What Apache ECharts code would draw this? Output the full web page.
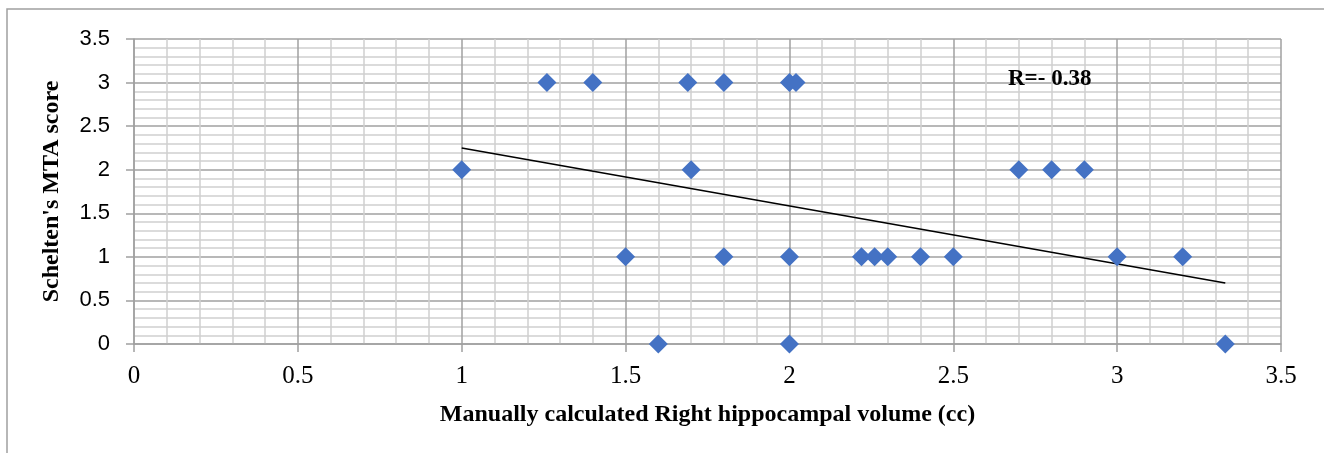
<!DOCTYPE html>
<html><head><meta charset="utf-8">
<script src="https://cdn.jsdelivr.net/npm/echarts@6/dist/echarts.min.js"></script>
<style>html,body{margin:0;padding:0;background:#fff}#c{width:1324px;height:453px}</style>
</head><body><div id="c"></div>
<script>
// Data
const volume3 = [1.26, 1.40, 1.69, 1.80, 2.00, 2.02];
const volume2 = [1.00, 1.70, 2.70, 2.80, 2.90];
const volume1 = [1.50, 1.80, 2.00, 2.22, 2.26, 2.30, 2.40, 2.50, 3.00, 3.20];
const volume0 = [1.60, 2.00, 3.33];
const scoreLevels = [3, 2, 1, 0];
const trendX = [1.00, 3.33];
const trendY = [2.25, 0.70];
const xTitle = 'Manually calculated Right hippocampal volume (cc)';
const yTitle = "Schelten's MTA score";
const rLabel = 'R=- 0.38';

const groups = [volume3, volume2, volume1, volume0];
const points = [];
groups.forEach((g, i) => g.forEach(x => points.push([x, scoreLevels[i]])));
const trend = trendX.map((x, i) => [x, trendY[i]]);

const chart = echarts.init(document.getElementById('c'));
const major = '#a0a0a0', minor = '#cfcfcf';
chart.setOption({
  animation: false,
  grid: {left: 134, right: 43, top: 39, bottom: 109, show: false},
  graphic: [
    {type: 'rect', shape: {x: 7, y: 9, width: 1330, height: 460}, style: {fill: 'none', stroke: '#a0a0a0', lineWidth: 1.5}, z: 0},
    {type: 'text', left: 1008, top: 68, z: 10,
     style: {text: rLabel, font: 'bold 23px "Liberation Serif"', fill: '#000'}}
  ],
  xAxis: {
    type: 'value', min: 0, max: 3.5, interval: 0.5,
    name: xTitle, nameLocation: 'middle', nameGap: 59,
    nameTextStyle: {fontFamily: 'Liberation Serif', fontWeight: 'bold', fontSize: 24, color: '#000'},
    axisLine: {show: true, lineStyle: {color: major, width: 1.5}},
    axisTick: {show: true, length: 8, lineStyle: {color: major, width: 1.5}},
    axisLabel: {fontFamily: 'Liberation Serif', fontSize: 25, color: '#000', margin: 20},
    splitLine: {show: true, lineStyle: {color: major, width: 1.5}},
    minorTick: {show: false, splitNumber: 5},
    minorSplitLine: {show: true, lineStyle: {color: minor, width: 1.5}}
  },
  yAxis: {
    type: 'value', min: 0, max: 3.5, interval: 0.5,
    name: yTitle, nameLocation: 'middle', nameGap: 70,
    nameTextStyle: {fontFamily: 'Liberation Serif', fontWeight: 'bold', fontSize: 24, color: '#000'},
    axisLine: {show: true, lineStyle: {color: major, width: 1.5}},
    axisTick: {show: true, length: 8, lineStyle: {color: major, width: 1.5}},
    axisLabel: {fontFamily: 'Liberation Sans', fontSize: 22, color: '#000', margin: 24},
    splitLine: {show: true, lineStyle: {color: major, width: 1.5}},
    minorTick: {show: false, splitNumber: 5},
    minorSplitLine: {show: true, lineStyle: {color: minor, width: 1.5}}
  },
  series: [
    {type: 'line', data: trend, symbol: 'none', lineStyle: {color: '#000', width: 1.5}, z: 3},
    {type: 'scatter', data: points, symbol: 'diamond', symbolSize: 19, itemStyle: {color: '#4472C4', opacity: 1}, z: 4}
  ]
});
</script></body></html>
